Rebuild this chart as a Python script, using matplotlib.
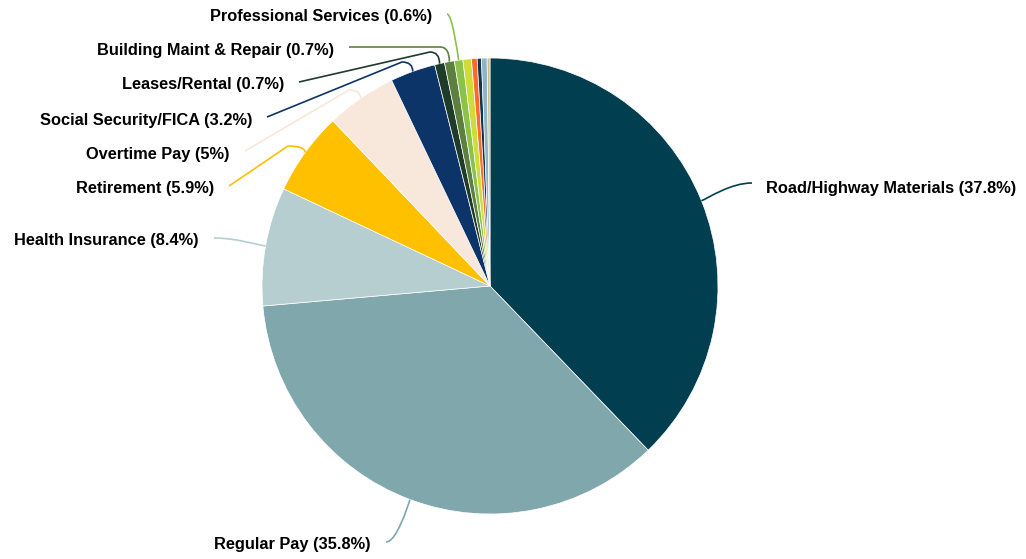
import matplotlib.pyplot as plt
import numpy as np
from matplotlib.path import Path
from matplotlib.patches import PathPatch

plt.rcParams['font.family'] = ['Liberation Sans', 'DejaVu Sans']

# spending categories, share of total (%)
categories = ["Road/Highway Materials", "Regular Pay", "Health Insurance", "Retirement",
              "Overtime Pay", "Social Security/FICA", "Leases/Rental",
              "Building Maint & Repair", "Professional Services",
              "Other 1", "Other 2", "Other 3", "Other 4", "Other 5"]
shares = [37.8, 35.8, 8.4, 5.9, 5, 3.2, 0.7, 0.7, 0.6, 0.6, 0.4, 0.3, 0.4, 0.2]
pct_labels = ["37.8%", "35.8%", "8.4%", "5.9%", "5%", "3.2%", "0.7%", "0.7%", "0.6%",
              None, None, None, None, None]
colors = ["#013f50", "#7fa7ac", "#b7ced0", "#ffc000", "#f8e8dc", "#0c3468", "#1f3b29",
          "#5d8040", "#8bc34a", "#cddc39", "#fb6a2c", "#12344d", "#8eb4c6", "#c9bd90"]

# where each leader line starts (x, y from top) and how the text hangs off it
label_pos = {
    0: (752, 183, 'left'),
    1: (386, 542, 'right'),
    2: (214, 238, 'right'),
    3: (229, 186, 'right'),
    4: (245, 151, 'right'),
    5: (267, 117, 'right'),
    6: (299, 82, 'right'),
    7: (349, 47, 'right'),
    8: (447, 14, 'right'),
}
elbows = {3: (296, 146), 4: (357, 90), 5: (410, 62), 6: (438, 52), 7: (448, 47)}

W, H = 1026, 559
cx, cy, R = 490, H - 286, 228

fig = plt.figure(figsize=(W / 100, H / 100), dpi=100)
ax = fig.add_axes([0, 0, 1, 1])
wedges, _ = ax.pie(shares, colors=colors, startangle=90, counterclock=False,
                   center=(cx, cy), radius=R,
                   wedgeprops=dict(edgecolor='white', linewidth=0.5))
ax.set_xlim(0, W)
ax.set_ylim(0, H)
ax.set_aspect('auto')
ax.axis('off')

for i, w in enumerate(wedges):
    if pct_labels[i] is None:
        continue
    mid = np.deg2rad((w.theta1 + w.theta2) / 2)
    ex, ey = cx + R * np.cos(mid), cy + R * np.sin(mid)
    lx, ly, ha = label_pos[i]
    ly = H - ly
    ox, oy = ex + 8 * np.cos(mid), ey + 8 * np.sin(mid)
    if i in elbows:
        bx, by = elbows[i][0], H - elbows[i][1]
        verts = [(lx, ly), (bx - 8 if bx < ex else bx, by), (ex, by), (ex, ey)]
        codes = [Path.MOVETO, Path.LINETO, Path.CURVE3, Path.CURVE3]
    else:
        mx = (lx + ox) / 2
        verts = [(lx, ly), (mx, ly), (ox, oy), (ex, ey)]
        codes = [Path.MOVETO, Path.CURVE4, Path.CURVE4, Path.CURVE4]
    ax.add_patch(PathPatch(Path(verts, codes), fill=False, edgecolor=colors[i], lw=1.2))
    tx = lx + 14 if ha == 'left' else lx - 15
    ax.text(tx, ly - 3 if i else ly - 5, f"{categories[i]} ({pct_labels[i]})", ha=ha,
            va='center', fontsize=11.8, fontweight='bold', color='black')

fig.savefig('out.png', dpi=100)
